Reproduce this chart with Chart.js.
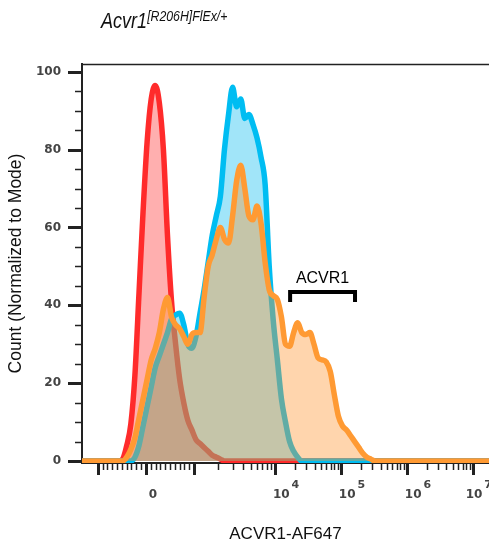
<!DOCTYPE html>
<html>
<head>
<meta charset="utf-8">
<script src="https://cdn.jsdelivr.net/npm/chart.js@4.4.1/dist/chart.umd.min.js"></script>
<style>
  body { margin: 0; background: #fff; }
  #wrap { position: relative; width: 489px; height: 548px; }
  #title {
    position: absolute; left: 101px; top: 10px;
    font: italic 22px 'Liberation Sans', Arial, sans-serif; line-height: 22px;
    color: #111; white-space: nowrap;
    transform: scaleX(0.82); transform-origin: left top;
  }
  #title sup { font-size: 15px; vertical-align: 7px; line-height: 0; }
</style>
</head>
<body>
<div id="wrap">
  <canvas id="chart" width="489" height="548"></canvas>
  <div id="title">Acvr1<sup>[R206H]FlEx/+</sup></div>
</div>
<script>
// display channels (0-1000 across the biexponential axis)
const channels = [
  0, 10, 20, 30, 40, 50, 60, 70, 80, 90,
  100, 110, 120, 130, 140, 150, 160, 170, 180, 190,
  200, 210, 220, 230, 240, 250, 260, 270, 280, 290,
  300, 310, 320, 330, 340, 350, 360, 370, 380, 390,
  400, 410, 420, 430, 440, 450, 460, 470, 480, 490,
  500, 510, 520, 530, 540, 550, 560, 570, 580, 590,
  600, 610, 620, 630, 640, 650, 660, 670, 680, 690,
  700, 710, 720, 730, 740, 750, 760, 770, 780, 790,
  800, 810, 820, 830, 840, 850, 860, 870, 880, 890,
  900, 910, 920, 930, 940, 950, 960, 970, 980, 990,
  1000
];

// count normalized to mode, one value per channel
const redCounts = [
  0, 0, 0, 0, 0, 0, 0, 0, 0, 0,
  0.5, 4, 9.5, 22, 43, 64, 82, 93, 96.5, 92,
  80, 58, 41, 30, 21, 15, 10.5, 8, 5.5, 4.5,
  3.5, 2.5, 1.5, 1, 0.5, 0, 0, 0, 0, 0,
  0, 0, 0, 0, 0, 0, 0, 0, 0, 0,
  0, 0, 0, 0, 0, 0, 0, 0, 0, 0,
  0, 0, 0, 0, 0, 0, 0, 0, 0, 0,
  0, 0, 0, 0, 0, 0, 0, 0, 0, 0,
  0, 0, 0, 0, 0, 0, 0, 0, 0, 0,
  0, 0, 0, 0, 0, 0, 0, 0, 0, 0,
  0
];
const blueCounts = [
  0, 0, 0, 0, 0, 0, 0, 0, 0, 0,
  0, 0, 0, 1, 4, 9, 14, 19, 24, 27,
  30, 33, 36.5, 37.5, 38, 35, 30, 29, 32, 38,
  44, 51, 58, 63, 68, 80, 89, 96, 91, 93,
  88, 89, 86.5, 83, 78, 71, 50, 36, 26, 16,
  10, 5, 2.5, 1, 0, 0, 0, 0, 0, 0,
  0, 0, 0, 0, 0, 0, 0, 0, 0, 0,
  0, 0, 0, 0, 0, 0, 0, 0, 0, 0,
  0, 0, 0, 0, 0, 0, 0, 0, 0, 0,
  0, 0, 0, 0, 0, 0, 0, 0, 0, 0,
  0
];
const orangeCounts = [
  0, 0, 0, 0, 0, 0, 0, 0, 0, 0,
  0, 1, 3, 6, 11, 16, 21, 26, 29, 33,
  39, 42, 37, 35, 34, 32, 30, 32.5, 33, 33,
  42, 50, 53, 57, 60, 57, 56, 63, 72, 76,
  70, 63, 62, 65.5, 61, 51, 44, 42.5, 41.5, 37,
  30, 29.5, 33, 35.5, 33, 32.5, 33, 30, 26.5, 26,
  25.5, 23, 17, 11.5, 9, 8, 6.5, 5, 3.5, 2,
  1, 0.5, 0, 0, 0, 0, 0, 0, 0, 0,
  0, 0, 0, 0, 0, 0, 0, 0, 0, 0,
  0, 0, 0, 0, 0, 0, 0, 0, 0, 0,
  0
];

const yTicks = [0, 20, 40, 60, 80, 100];
const xLabelValues = [0, 1e4, 1e5, 1e6, 1e7];
const xLabelText = ['0', '10^4', '10^5', '10^6', '10^7'];
const gateRange = [1.7e4, 1.64e5]; // ACVR1 gate, in intensity units
const gateLevel = 43.4;
const gateLabel = 'ACVR1';

// intensity -> display channel (linear near zero, log above 10^3)
function toChannel(v) {
  if (Math.abs(v) <= 1000) return 157 + v / 1000 * 118;
  if (v <= 1e4) return 275 + 199 * Math.log10(v / 1000);
  return 474 + 162 * Math.log10(v / 1e4);
}

function xTickValues() {
  const ticks = [];
  for (let v = -1000; v <= 1000; v += 100) ticks.push({ v, major: v % 1000 === 0 });
  for (let d = 1e3; d < 1e7; d *= 10) {
    for (let k = 2; k <= 9; k++) ticks.push({ v: k * d, major: false });
    ticks.push({ v: d * 10, major: true });
  }
  return ticks;
}

const axisDecor = {
  id: 'axisDecor',
  afterDraw(chart) {
    const { ctx, chartArea: a, scales: { x, y } } = chart;
    ctx.save();
    ctx.strokeStyle = '#222';
    ctx.lineWidth = 1.5;
    ctx.beginPath();
    ctx.moveTo(a.left, a.top + 0.5);
    ctx.lineTo(a.right, a.top + 0.5);
    ctx.stroke();

    // y ticks, major every 20, minor every 5
    for (let v = 0; v <= 100; v += 5) {
      const py = Math.round(y.getPixelForValue(v)) + 0.5;
      const major = yTicks.includes(v);
      ctx.lineWidth = major ? 3 : 1.5;
      ctx.beginPath();
      ctx.moveTo(a.left - (major ? 14 : 7), py);
      ctx.lineTo(a.left, py);
      ctx.stroke();
    }

    // x ticks
    xTickValues().forEach(t => {
      const px = Math.round(x.getPixelForValue(toChannel(t.v))) + 0.5;
      if (px < a.left || px > a.right) return;
      ctx.lineWidth = t.major ? 3 : 1.5;
      ctx.beginPath();
      ctx.moveTo(px, a.bottom);
      ctx.lineTo(px, a.bottom + (t.major ? 12 : 7));
      ctx.stroke();
    });

    // x tick labels
    ctx.fillStyle = '#444';
    ctx.textBaseline = 'alphabetic';
    xLabelValues.forEach((v, i) => {
      const px = x.getPixelForValue(toChannel(v));
      const [base, exp] = xLabelText[i].split('^');
      ctx.font = 'bold 12px "DejaVu Sans"';
      if (!exp) {
        ctx.textAlign = 'center';
        ctx.fillText(base, px + 7, 498);
        return;
      }
      const wBase = ctx.measureText(base).width;
      ctx.font = 'bold 11px "DejaVu Sans"';
      const wExp = ctx.measureText(exp).width;
      const left = Math.min(px - 2, chart.width + 3 - wBase - wExp - 2);
      ctx.textAlign = 'left';
      ctx.font = 'bold 12px "DejaVu Sans"';
      ctx.fillText(base, left, 498);
      ctx.font = 'bold 11px "DejaVu Sans"';
      ctx.fillText(exp, left + wBase + 2, 488);
    });

    // gate bracket
    const gx1 = x.getPixelForValue(toChannel(gateRange[0]));
    const gx2 = x.getPixelForValue(toChannel(gateRange[1]));
    const gy = y.getPixelForValue(gateLevel);
    ctx.strokeStyle = '#000';
    ctx.lineWidth = 4;
    ctx.lineJoin = 'miter';
    ctx.beginPath();
    ctx.moveTo(gx1, gy + 10);
    ctx.lineTo(gx1, gy);
    ctx.lineTo(gx2, gy);
    ctx.lineTo(gx2, gy + 10);
    ctx.stroke();
    ctx.fillStyle = '#000';
    ctx.font = '16px "Liberation Sans", Arial';
    ctx.textAlign = 'center';
    ctx.fillText(gateLabel, (gx1 + gx2) / 2, gy - 9);
    ctx.restore();
  }
};

function series(label, counts, line, fill, order) {
  return {
    label,
    data: channels.map((c, i) => ({ x: c, y: counts[i] })),
    borderColor: line,
    backgroundColor: fill,
    borderWidth: 5.5,
    fill: 'origin',
    pointRadius: 0,
    tension: 0.3,
    cubicInterpolationMode: 'monotone',
    order
  };
}

new Chart(document.getElementById('chart'), {
  type: 'line',
  data: {
    datasets: [
      series('red sample', redCounts, '#ff2b2b', 'rgba(255, 45, 45, 0.38)', 3),
      series('blue sample', blueCounts, '#00bdf2', 'rgba(0, 185, 240, 0.37)', 2),
      series('orange sample', orangeCounts, '#ff9a33', 'rgba(255, 145, 40, 0.38)', 1)
    ]
  },
  options: {
    responsive: false,
    animation: false,
    layout: { padding: { top: 64, left: 0, right: 0, bottom: 0 } },
    plugins: { legend: { display: false }, tooltip: { enabled: false } },
    scales: {
      x: {
        type: 'linear',
        min: 0,
        max: 1000,
        afterFit: s => { s.height = 85; },
        ticks: { display: false },
        grid: { display: false },
        border: { display: true, color: '#222', width: 2 },
        title: {
          display: true,
          text: 'ACVR1-AF647',
          color: '#111',
          font: { family: '"Liberation Sans", Arial', size: 17 },
          padding: { top: 0, bottom: 3 }
        }
      },
      y: {
        min: -0.5,
        max: 102,
        afterFit: s => { s.width = 82; },
        afterBuildTicks: s => { s.ticks = yTicks.map(v => ({ value: v })); },
        ticks: {
          padding: 13,
          color: '#444',
          font: { family: '"DejaVu Sans"', size: 12, weight: 'bold' }
        },
        grid: { display: false },
        border: { display: true, color: '#222', width: 2 },
        title: {
          display: true,
          text: 'Count (Normalized to Mode)',
          color: '#111',
          font: { family: '"Liberation Sans", Arial', size: 17.5 },
          padding: { top: 5.5, bottom: 0 }
        }
      }
    }
  },
  plugins: [axisDecor]
});
</script>
</body>
</html>
